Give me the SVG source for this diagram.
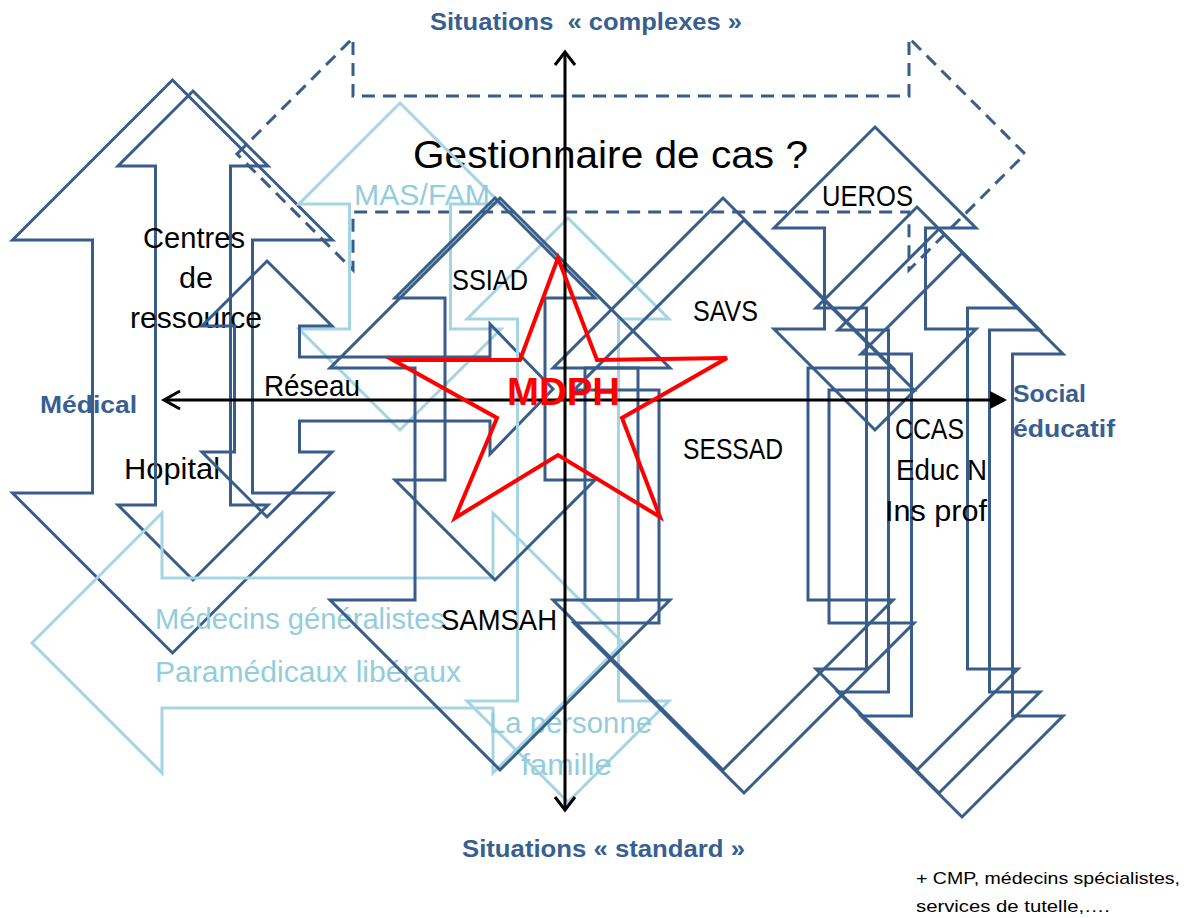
<svg xmlns="http://www.w3.org/2000/svg" width="1191" height="918" viewBox="0 0 1191 918">
<style>
.d{fill:none;stroke:#385D8A;stroke-width:3;stroke-linejoin:miter}
.dash{fill:none;stroke:#385D8A;stroke-width:3;stroke-dasharray:13 8}
.l{fill:none;stroke:#A5D5E2;stroke-width:3}
.star{fill:none;stroke:#FF0000;stroke-width:4}
.t{font-family:"Liberation Sans",Arial,sans-serif;font-size:30px;fill:#000}
.tl{font-family:"Liberation Sans",Arial,sans-serif;font-size:30px;fill:#93CDDD}
.ax{font-family:"Liberation Sans",Arial,sans-serif;font-size:23px;font-weight:bold;fill:#376092}
.note{font-family:"Liberation Sans",Arial,sans-serif;font-size:17px;fill:#000}
.axl{fill:none;stroke:#000;stroke-width:3}
</style>
<rect width="1191" height="918" fill="#fff"/>

<g id="gestionnaire">
<polygon class="dash" points="237,154 353,38 353,96 909,96 909,38 1025,154 909,270 909,212 353,212 353,270"/>
<text class="t" x="413" y="168" style="font-size:39px" textLength="395" lengthAdjust="spacingAndGlyphs">Gestionnaire de cas ?</text>
</g>

<g id="hopital">
<polygon class="d" points="172.5,80 332.5,240 252.5,240 252.5,493 332.5,493 172.5,653 12.5,493 92.5,493 92.5,240 12.5,240"/>
<text class="t" x="124" y="479" textLength="96" lengthAdjust="spacingAndGlyphs">Hopital</text>
</g>

<g id="centres">
<polygon class="d" points="193,91 268,166 230.5,166 230.5,505 268,505 193,580 118,505 155.5,505 155.5,166 118,166"/>
<text class="t" x="143" y="248" textLength="102" lengthAdjust="spacingAndGlyphs">Centres</text>
<text class="t" x="179" y="288" textLength="34" lengthAdjust="spacingAndGlyphs">de</text>
<text class="t" x="130" y="328" textLength="132" lengthAdjust="spacingAndGlyphs">ressource</text>
</g>

<g id="mas-fam">
<polygon class="l" points="400,103 501,204 450.5,204 450.5,329 501,329 400,430 299,329 349.5,329 349.5,204 299,204"/>
<text class="tl" x="354" y="205" textLength="136" lengthAdjust="spacingAndGlyphs">MAS/FAM</text>
</g>

<g id="reseau">
<polygon class="d" points="267,261 332,326 299.5,326 299.5,357 490,357 490,324 553,389 490,454 490,421 299.5,421 299.5,452 332,452 267,517 202,452 234.5,452 234.5,326 202,326"/>
<text class="t" x="264" y="396" textLength="96" lengthAdjust="spacingAndGlyphs">Réseau</text>
</g>

<g id="medecins">
<polygon class="l" points="32,643 162,513 162,578 493,578 493,513 623,643 493,773 493,708 162,708 162,773"/>
<text class="tl" x="155" y="629" textLength="290" lengthAdjust="spacingAndGlyphs">Médecins généralistes</text>
<text class="tl" x="155" y="682" textLength="306" lengthAdjust="spacingAndGlyphs">Paramédicaux libéraux</text>
</g>

<g id="personne">
<polygon class="l" points="568,218 669,319 618.5,319 618.5,701 669,701 568,802 467,701 517.5,701 517.5,319 467,319"/>
<text class="tl" x="489" y="733" textLength="163" lengthAdjust="spacingAndGlyphs">La personne</text>
<text class="tl" x="521" y="775" textLength="91" lengthAdjust="spacingAndGlyphs">famille</text>
</g>

<g id="samsah">
<polygon class="d" points="500,198 670,368 585,368 585,600 670,600 500,770 330,600 415,600 415,368 330,368"/>
<text class="t" x="441" y="630" textLength="116" lengthAdjust="spacingAndGlyphs">SAMSAH</text>
</g>

<g id="ssiad">
<polygon class="d" points="495,198 595,298 545,298 545,480 595,480 495,580 395,480 445,480 445,298 395,298"/>
<text class="t" x="452" y="290" textLength="76" lengthAdjust="spacingAndGlyphs">SSIAD</text>
</g>

<g id="savs">
<polygon class="d" points="723,198 893,368 808,368 808,600 893,600 723,770 553,600 638,600 638,368 553,368"/>
<text class="t" x="693" y="321" textLength="65" lengthAdjust="spacingAndGlyphs">SAVS</text>
</g>

<g id="sessad">
<polygon class="d" points="744,220 914,390 829,390 829,623 914,623 744,793 574,623 659,623 659,390 574,390"/>
<text class="t" x="683" y="459" textLength="100" lengthAdjust="spacingAndGlyphs">SESSAD</text>
</g>

<g id="ueros">
<polygon class="d" points="875,127 976,228 925.5,228 925.5,329 976,329 875,430 774,329 824.5,329 824.5,228 774,228"/>
<text class="t" x="822" y="206" textLength="91" lengthAdjust="spacingAndGlyphs">UEROS</text>
</g>

<g id="ccas">
<polygon class="d" points="917,207 1018,308 967.5,308 967.5,669 1018,669 917,770 816,669 866.5,669 866.5,308 816,308"/>
<polygon class="d" points="939,229 1040,330 989.5,330 989.5,692 1040,692 939,793 838,692 888.5,692 888.5,330 838,330"/>
<polygon class="d" points="962,253 1063,354 1012.5,354 1012.5,716 1063,716 962,817 861,716 911.5,716 911.5,354 861,354"/>
<text class="t" x="895" y="439" textLength="69" lengthAdjust="spacingAndGlyphs">CCAS</text>
<text class="t" x="896" y="480" textLength="91" lengthAdjust="spacingAndGlyphs">Educ N</text>
<text class="t" x="885" y="521" textLength="102" lengthAdjust="spacingAndGlyphs">Ins prof</text>
</g>

<g id="connectors">
<line class="axl" x1="565" y1="54" x2="565" y2="808"/>
<polyline class="axl" points="555,65 565,52 575,65"/>
<polyline class="axl" points="555,797 565,810 575,797"/>
<line class="axl" x1="165" y1="400" x2="995" y2="400"/>
<polyline class="axl" points="180,391 164,400 180,409"/>
<polygon points="990,391 1007,400 990,409" fill="#000"/>
</g>

<g id="mdph">
<polygon class="star" points="558,258 597,360 727,358 622,418 660,517 558,455 455,518 497,418 393,360 520,360"/>
<text x="507" y="405" style="font-family:'Liberation Sans',Arial,sans-serif;font-size:38px;font-weight:bold;fill:#FF0000" textLength="113" lengthAdjust="spacingAndGlyphs">MDPH</text>
</g>

<g id="axis-labels">
<text class="ax" x="430" y="30" xml:space="preserve" textLength="312" lengthAdjust="spacingAndGlyphs">Situations  « complexes »</text>
<text class="ax" x="462" y="857" textLength="283" lengthAdjust="spacingAndGlyphs">Situations « standard »</text>
<text class="ax" x="40" y="413" textLength="97" lengthAdjust="spacingAndGlyphs">Médical</text>
<text class="ax" x="1013" y="402" textLength="73" lengthAdjust="spacingAndGlyphs">Social</text>
<text class="ax" x="1013" y="437" textLength="102" lengthAdjust="spacingAndGlyphs">éducatif</text>
<text class="note" x="916" y="884" textLength="264" lengthAdjust="spacingAndGlyphs">+ CMP, médecins spécialistes,</text>
<text class="note" x="916" y="912" textLength="194" lengthAdjust="spacingAndGlyphs">services de tutelle,….</text>
</g>
</svg>
